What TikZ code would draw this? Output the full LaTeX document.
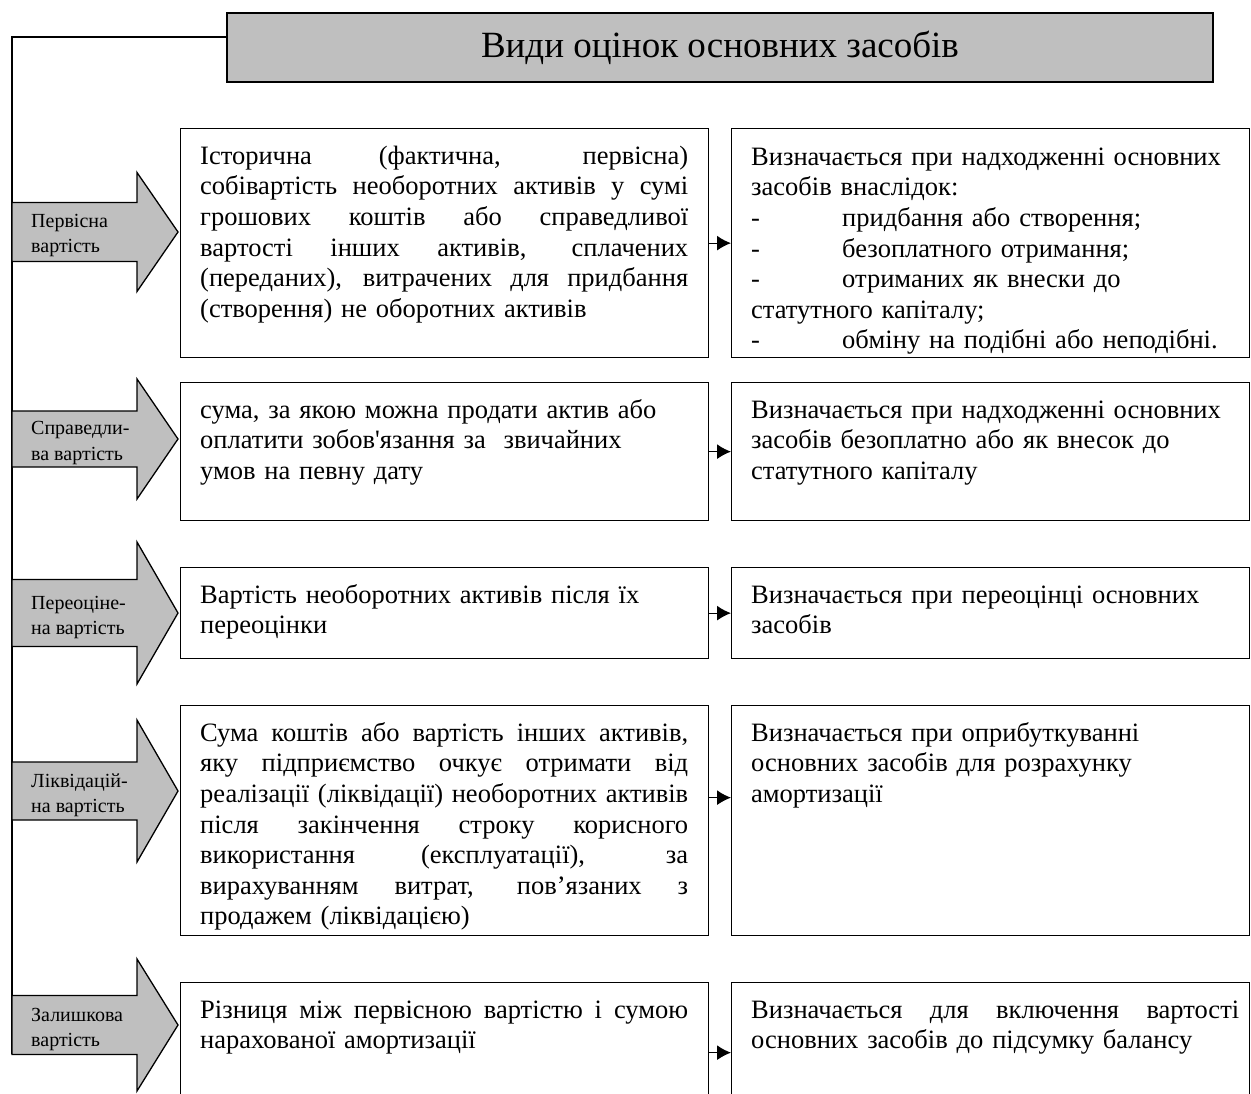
\documentclass[tikz,border=0pt]{standalone}
\usepackage{fontspec}
\setmainfont{Liberation Serif}
\usetikzlibrary{arrows.meta}

\newcommand{\jl}[1]{\makebox[488pt][s]{\spaceskip=0pt\xspaceskip=0pt\relax #1}}
\newcommand{\dsh}{\makebox[91pt][l]{-}}

\begin{document}
\begin{tikzpicture}[>={Latex[length=14pt,width=15pt]},x=1pt,y=-1pt,
  box/.style={draw=black,line width=1.3pt,inner sep=0pt,anchor=north west},
  txt/.style={anchor=north west,inner sep=0pt,text width=488pt,align=left,font=\fontsize{26.5}{30.6}\selectfont},
  lbl/.style={anchor=west,inner sep=0pt,align=left,font=\fontsize{20}{25}\selectfont},
  bigarr/.style={draw=black,fill=gray!50,line width=1.3pt,line join=miter}]
\useasboundingbox (0,0) rectangle (1251,1093);
\clip (0,0) rectangle (1251,1093);
\def\bigarrow#1#2#3#4#5{%
  \draw[bigarr] (12,#2-#3) -- (137,#2-#3) -- (137,#2-#4) -- (178,#2) -- (137,#2+#4) -- (137,#2+#3) -- (12,#2+#3) -- cycle;
  \node[lbl] (#1) at (31,#2+4) {#5};}
\node[draw=black,fill=gray!50,line width=1.3pt,minimum width=986pt,minimum height=69pt,inner sep=0pt,font=\fontsize{37}{40}\selectfont] (title) at (720,47.5) {Види оцінок основних засобів};
\coordinate (lend) at (12,1054);
\draw[line width=1.3pt] ([yshift=10.5pt]title.west) -| (lend);
% block arrows on the left
\bigarrow{a1}{232}{29.5}{59.5}{Первісна\\вартість}
\bigarrow{a2}{439}{28}{60}{Справедли-\\ва вартість}
\bigarrow{a3}{613}{33.5}{71}{Переоціне-\\на вартість}
\bigarrow{a4}{791}{29}{71}{Ліквідацій-\\на вартість}
\bigarrow{a5}{1025}{29.5}{66}{Залишкова\\вартість}
% boxes
\node[box,minimum width=528pt,minimum height=229pt] (l1) at (180,128) {};
\node[box,minimum width=518pt,minimum height=229pt] (r1) at (731,128) {};
\node[box,minimum width=528pt,minimum height=138pt] (l2) at (180,382) {};
\node[box,minimum width=518pt,minimum height=138pt] (r2) at (731,382) {};
\node[box,minimum width=528pt,minimum height=91pt] (l3) at (180,567) {};
\node[box,minimum width=518pt,minimum height=91pt] (r3) at (731,567) {};
\node[box,minimum width=528pt,minimum height=230pt] (l4) at (180,705) {};
\node[box,minimum width=518pt,minimum height=230pt] (r4) at (731,705) {};
\node[box,minimum width=528pt,minimum height=140pt] (l5) at (180,982) {};
\node[box,minimum width=518pt,minimum height=140pt] (r5) at (731,982) {};
% texts
\node[txt] (l1t) at ([shift={(20,14.6)}]l1.north west) {\strut\jl{Історична (фактична, первісна)}\\
\jl{собівартість необоротних активів у сумі}\\
\jl{грошових коштів або справедливої}\\
\jl{вартості інших активів, сплачених}\\
\jl{(переданих), витрачених для придбання}\\
(створення) не оборотних активів};
\begin{scope}
\clip (r1.north west) rectangle (r1.south east);
\node[txt] (r1t) at ([shift={(20,15.6)}]r1.north west) {\strut Визначається при надходженні основних\\
засобів внаслідок:\\
\dsh придбання або створення;\\
\dsh безоплатного отримання;\\
\dsh отриманих як внески до\\
статутного капіталу;\\
\dsh обміну на подібні або неподібні.};
\end{scope}
\node[txt] (l2t) at ([shift={(20,14.6)}]l2.north west) {\strut сума, за якою можна продати актив або\\
оплатити зобов\textquotesingle язання за\ \ звичайних\\
умов на певну дату};
\node[txt] (r2t) at ([shift={(20,14.6)}]r2.north west) {\strut Визначається при надходженні основних\\
засобів безоплатно або як внесок до\\
статутного капіталу};
\node[txt] (l3t) at ([shift={(20,14.6)}]l3.north west) {\strut Вартість необоротних активів після їх\\
переоцінки};
\node[txt] (r3t) at ([shift={(20,14.6)}]r3.north west) {\strut Визначається при переоцінці основних\\
засобів};
\begin{scope}
\clip (l4.north west) rectangle (l4.south east);
\node[txt] (l4t) at ([shift={(20,14.6)}]l4.north west) {\strut\jl{Сума коштів або вартість інших активів,}\\
\jl{яку підприємство очкує отримати від}\\
\jl{реалізації (ліквідації) необоротних активів}\\
\jl{після закінчення строку корисного}\\
\jl{використання (експлуатації), за}\\
\jl{вирахуванням витрат, пов’язаних з}\\
продажем (ліквідацією)};
\end{scope}
\node[txt] (r4t) at ([shift={(20,14.6)}]r4.north west) {\strut Визначається при оприбуткуванні\\
основних засобів для розрахунку\\
амортизації};
\node[txt] (l5t) at ([shift={(20,14.6)}]l5.north west) {\strut\jl{Різниця між первісною вартістю і сумою}\\
нарахованої амортизації};
\node[txt] (r5t) at ([shift={(20,14.6)}]r5.north west) {\strut\jl{Визначається для включення вартості}\\
основних засобів до підсумку балансу};
% small arrows between the boxes
\draw[->,line width=1.3pt] (l1.east) -- (r1.west);
\draw[->,line width=1.3pt] (l2.east) -- (r2.west);
\draw[->,line width=1.3pt] (l3.east) -- (r3.west);
\draw[->,line width=1.3pt] ([yshift=23pt]l4.east) -- ([yshift=23pt]r4.west);
\draw[->,line width=1.3pt] (l5.east) -- (r5.west);
\end{tikzpicture}
\end{document}
